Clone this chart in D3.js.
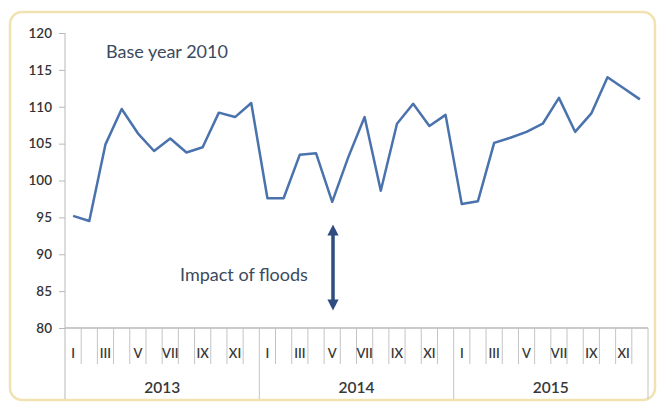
<!DOCTYPE html>
<html>
<head>
<meta charset="utf-8">
<script src="https://cdn.jsdelivr.net/npm/d3@7"></script>
<style>
  body { margin: 0; background: #fff; }
  text { font-family: Lato, "Open Sans", sans-serif; }
</style>
</head>
<body>
<div class="chart"></div>
<script>
// data
var years = ["2013", "2014", "2015"];
var months = ["I", "II", "III", "IV", "V", "VI", "VII", "VIII", "IX", "X", "XI", "XII"];
var values2013 = [95.2, 94.5, 104.9, 109.7, 106.4, 104.0, 105.7, 103.8, 104.5, 109.2, 108.6, 110.5];
var values2014 = [97.6, 97.6, 103.5, 103.7, 97.1, 103.2, 108.6, 98.6, 107.7, 110.4, 107.4, 108.9];
var values2015 = [96.8, 97.2, 105.1, 105.8, 106.6, 107.7, 111.2, 106.6, 109.1, 114.0, 112.5, 111.0];
var yTicks = [80, 85, 90, 95, 100, 105, 110, 115, 120];

var svgWidth = 660, svgHeight = 406;
var margin = { top: 33, right: 12, bottom: 78, left: 65 };
var width = 648 - margin.left;
var height = 328 - margin.top;

var svg = d3.select(".chart").append("svg")
  .attr("width", svgWidth)
  .attr("height", svgHeight);

// frame
svg.append("rect")
  .attr("x", 10).attr("y", 12)
  .attr("width", 645).attr("height", 388)
  .attr("rx", 12)
  .attr("fill", "#fff")
  .attr("stroke", "#f1e2b2")
  .attr("stroke-width", 2.5);

var g = svg.append("g")
  .attr("transform", `translate(${margin.left}, ${margin.top})`);

var series = [values2013, values2014, values2015];
var points = [];
series.forEach(function(vals, yi) {
  vals.forEach(function(v, mi) {
    points.push({ key: years[yi] + "-" + mi, year: years[yi], month: months[mi], mi: mi, value: v });
  });
});

var x = d3.scaleBand()
  .domain(points.map(d => d.key))
  .range([0, width]);

var y = d3.scaleLinear()
  .domain([80, 120])
  .range([height, 0]);

// y axis
var leftAxis = d3.axisLeft(y).tickValues(yTicks).tickSize(6).tickPadding(7);
var yAxis = g.append("g").call(leftAxis);
yAxis.select(".domain").remove();
yAxis.selectAll("line").attr("stroke", "#b8b8b8");
yAxis.selectAll("text")
  .attr("fill", "#333")
  .style("font-size", "13.5px")
  .style("font-weight", "600")
  .style("font-family", "Lato, sans-serif");
g.append("line")
  .attr("x1", 0).attr("x2", 0).attr("y1", 0).attr("y2", 400 - margin.top - 1)
  .attr("stroke", "#b8b8b8");

// x axis (two-level)
g.append("line")
  .attr("x1", 0).attr("x2", width).attr("y1", height).attr("y2", height)
  .attr("stroke", "#b8b8b8").attr("stroke-width", 1.5);

var bw = x.bandwidth();
// month boundary ticks
g.selectAll(".mtick")
  .data(points.slice(1))
  .enter().append("line")
  .attr("class", "mtick")
  .attr("x1", d => x(d.key)).attr("x2", d => x(d.key))
  .attr("y1", height).attr("y2", d => d.mi === 0 ? 400 - margin.top - 1 : height + 36)
  .attr("stroke", "#c4c4c4");
g.append("line")
  .attr("x1", width).attr("x2", width)
  .attr("y1", height).attr("y2", 400 - margin.top - 1)
  .attr("stroke", "#c4c4c4");

g.selectAll(".mlabel")
  .data(points.filter(d => d.mi % 2 === 0))
  .enter().append("text")
  .attr("class", "mlabel")
  .attr("x", d => x(d.key) + bw / 2)
  .attr("y", height + 30)
  .attr("text-anchor", "middle")
  .attr("fill", "#383838")
  .style("font-size", "13px")
  .style("font-weight", "600")
  .text(d => d.month);

g.selectAll(".ylabel")
  .data(years)
  .enter().append("text")
  .attr("class", "ylabel")
  .attr("x", d => x(d + "-0") + bw * 6)
  .attr("y", height + 65)
  .attr("text-anchor", "middle")
  .attr("fill", "#383838")
  .style("font-size", "15.5px")
  .style("font-weight", "600")
  .text(d => d);

// line
var line = d3.line()
  .x(d => x(d.key) + bw / 2)
  .y(d => y(d.value));

g.append("path")
  .datum(points)
  .attr("fill", "none")
  .attr("stroke", "#4a72ad")
  .attr("stroke-width", 2.5)
  .attr("stroke-linejoin", "round")
  .attr("d", line);

// annotations
g.append("text")
  .attr("x", 41).attr("y", 25)
  .attr("fill", "#3b4a60")
  .style("font-size", "18px")
  .text("Base year 2010");

g.append("text")
  .attr("x", 115).attr("y", 248)
  .attr("fill", "#3b4a60")
  .style("font-size", "18px")
  .text("Impact of floods");

var defs = svg.append("defs");
defs.append("marker")
  .attr("id", "ah")
  .attr("viewBox", "0 0 10 10")
  .attr("refX", 5).attr("refY", 5)
  .attr("markerWidth", 3.2).attr("markerHeight", 3.2)
  .attr("orient", "auto-start-reverse")
  .append("path")
  .attr("d", "M0,0 L10,5 L0,10 z")
  .attr("fill", "#2f4d80");

var ax = 333 - margin.left;
g.append("line")
  .attr("x1", ax).attr("x2", ax)
  .attr("y1", 230 - margin.top).attr("y2", 305 - margin.top)
  .attr("stroke", "#2f4d80")
  .attr("stroke-width", 3.5)
  .attr("marker-start", "url(#ah)")
  .attr("marker-end", "url(#ah)");
</script>
</body>
</html>
